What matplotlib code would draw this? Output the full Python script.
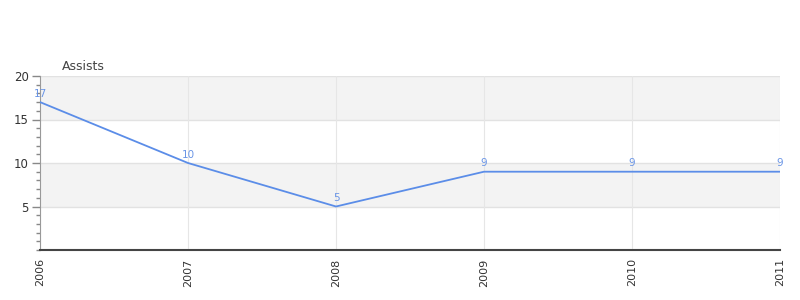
import matplotlib
matplotlib.use("Agg")
import matplotlib.pyplot as plt
from matplotlib.ticker import MultipleLocator

years = ["2006", "2007", "2008", "2009", "2010", "2011"]
assists = [17, 10, 5, 9, 9, 9]
title = "Assists"

fig = plt.figure(figsize=(8, 3), dpi=100)
ax = fig.add_axes([40/800, 50/300, 740/800, 174/300])

x = list(range(len(years)))
ax.set_xlim(0, len(years) - 1)
ax.set_ylim(0, 20)

# alternating bands
for lo, hi, c in [(0, 5, "white"), (5, 10, "#f3f3f3"), (10, 15, "white"), (15, 20, "#f3f3f3")]:
    ax.axhspan(lo, hi, color=c, zorder=0, lw=0)
for yv in [5, 10, 15, 20]:
    ax.axhline(yv, color="#e2e2e2", lw=1, zorder=1)
for xv in x:
    ax.axvline(xv, color="#e6e6e6", lw=0.8, zorder=1)

ax.plot(x, assists, color="#5b8de8", lw=1.3, zorder=3)
for xi, v in zip(x, assists):
    ax.annotate(str(v), (xi, v), xytext=(0, 2.5), textcoords="offset points",
                ha="center", va="bottom", fontsize=7.5, color="#6a95e6", zorder=4)

ax.set_xticks(x)
ax.set_xticklabels(years, rotation=90, fontsize=8, color="#333333")
ax.set_yticks([5, 10, 15, 20])
ax.set_yticklabels(["5", "10", "15", "20"], fontsize=8.5, color="#333333")
ax.yaxis.set_minor_locator(MultipleLocator(1))
ax.tick_params(axis="y", which="major", length=6, color="#888888", width=1, pad=2)
ax.tick_params(axis="y", which="minor", length=3, color="#888888", width=1)
ax.tick_params(axis="x", length=0, pad=6)

for s in ["top", "right"]:
    ax.spines[s].set_visible(False)
ax.spines["left"].set_color("#999999")
ax.spines["bottom"].set_color("#444444")
ax.spines["bottom"].set_linewidth(1.5)

fig.text(62/800, 1 - 66/300, title, fontsize=9, color="#444444", ha="left", va="center")

fig.savefig("out.png", dpi=100)
